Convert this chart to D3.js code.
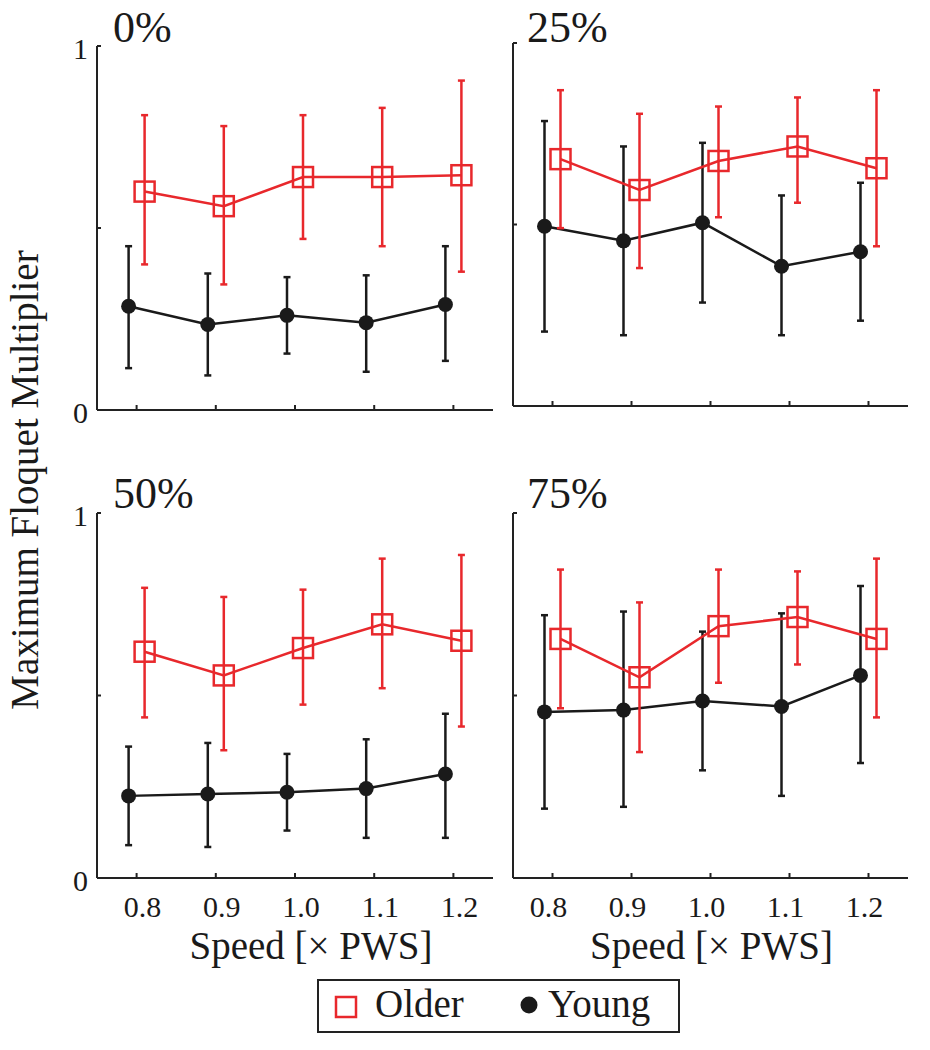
<!DOCTYPE html>
<html><head><meta charset="utf-8">
<script src="https://cdn.jsdelivr.net/npm/d3@7"></script>
<style>
html,body{margin:0;padding:0;background:#fff;}
svg text{font-family:"Liberation Serif","Times New Roman",serif;fill:#1a1a1a;}
</style></head>
<body>
<svg id="chart" width="930" height="1050" font-family="Liberation Serif, Times New Roman, serif"></svg>
<script>
const speeds = [0.8, 0.9, 1.0, 1.1, 1.2];
const panelTitles = ["0%", "25%", "50%", "75%"];
const yTicks = [0, 0.5, 1];
const yTickLabels = ["0", "", "1"];

const olderMean  = [[0.60,0.56,0.64,0.64,0.645],[0.68,0.595,0.675,0.715,0.655],[0.62,0.555,0.63,0.695,0.65],[0.655,0.55,0.69,0.715,0.655]];
const olderUpper = [[0.81,0.78,0.81,0.83,0.905],[0.87,0.805,0.825,0.85,0.87],[0.795,0.77,0.79,0.875,0.885],[0.845,0.755,0.845,0.84,0.875]];
const olderLower = [[0.40,0.345,0.47,0.45,0.38],[0.49,0.38,0.52,0.56,0.44],[0.44,0.35,0.475,0.52,0.415],[0.465,0.345,0.535,0.585,0.44]];
const youngMean  = [[0.285,0.235,0.26,0.24,0.29],[0.495,0.455,0.505,0.385,0.425],[0.225,0.23,0.235,0.245,0.285],[0.455,0.46,0.485,0.47,0.555]];
const youngUpper = [[0.45,0.375,0.365,0.37,0.45],[0.785,0.715,0.725,0.58,0.615],[0.36,0.37,0.34,0.38,0.45],[0.72,0.73,0.675,0.725,0.80]];
const youngLower = [[0.115,0.095,0.155,0.105,0.135],[0.205,0.195,0.285,0.195,0.235],[0.09,0.085,0.13,0.11,0.11],[0.19,0.195,0.295,0.225,0.315]];

const RED = "#e8282c", BLK = "#1a1a1a", AX = "#222";
const FONT = "'Liberation Serif', 'Times New Roman', serif";
const svg = d3.select("#chart");

const frames = [
  {l:97, r:493, t:46, b:410, showY:true, showX:false, dx:6},
  {l:513, r:908, t:43, b:406, showY:false, showX:false, dx:-4},
  {l:97, r:493, t:513, b:878, showY:true, showX:true, dx:6},
  {l:513, r:908, t:513, b:878, showY:false, showX:true, dx:-4}
];

frames.forEach((f, i) => {
  const g = svg.append("g");
  const x = d3.scaleLinear().domain([0.75, 1.25]).range([f.l, f.r]);
  const y = d3.scaleLinear().domain([0, 1]).range([f.b, f.t]);
  const off = 8;

  g.append("line").attr("x1", f.l).attr("x2", f.l).attr("y1", f.t).attr("y2", f.b)
    .attr("stroke", AX).attr("stroke-width", 2);
  g.append("line").attr("x1", f.l).attr("x2", f.r).attr("y1", f.b).attr("y2", f.b)
    .attr("stroke", AX).attr("stroke-width", 2);
  g.selectAll(".yt").data(yTicks).enter().append("line")
    .attr("x1", f.l).attr("x2", f.l + 4)
    .attr("y1", d => y(d)).attr("y2", d => y(d))
    .attr("stroke", AX).attr("stroke-width", 2);
  g.selectAll(".xt").data(speeds).enter().append("line")
    .attr("x1", d => x(d)).attr("x2", d => x(d))
    .attr("y1", f.b).attr("y2", f.b - 5)
    .attr("stroke", AX).attr("stroke-width", 2);

  if (f.showY) {
    g.selectAll(".yl").data(yTicks).enter().append("text")
      .attr("x", f.l - 9).attr("y", d => y(d) + 13)
      .attr("text-anchor", "end").attr("font-size", 30).attr("font-family", FONT)
      .text((d, k) => yTickLabels[k]);
  }
  if (f.showX) {
    g.selectAll(".xl").data(speeds).enter().append("text")
      .attr("x", d => x(d) + f.dx).attr("y", f.b + 39)
      .attr("text-anchor", "middle").attr("font-size", 30).attr("font-family", FONT)
      .text(d => d.toFixed(1));
    g.append("text").attr("x", (f.l + f.r) / 2 + (i === 2 ? 16 : 1)).attr("y", f.b + 81)
      .attr("text-anchor", "middle").attr("font-size", 39).attr("font-family", FONT)
      .text("Speed [× PWS]");
  }
  g.append("text").attr("x", f.l + 16 - (i % 2 === 1 ? 2 : 0)).attr("y", (i < 2 ? 42 : 508))
    .attr("font-size", 44).attr("font-family", FONT).text(panelTitles[i]);

  const cap = 3.5;
  const line = d3.line().x(d => d.px).y(d => y(d.m));

  const yd = speeds.map((s, k) => ({s, m: youngMean[i][k], u: youngUpper[i][k], lo: youngLower[i][k]}));
  yd.forEach(d => d.px = x(d.s) - off);
  const gy = g.append("g");
  yd.forEach(d => {
    gy.append("line").attr("x1", d.px).attr("x2", d.px).attr("y1", y(d.u)).attr("y2", y(d.lo))
      .attr("stroke", BLK).attr("stroke-width", 2.5);
    [d.u, d.lo].forEach(v => gy.append("line").attr("x1", d.px - cap).attr("x2", d.px + cap)
      .attr("y1", y(v)).attr("y2", y(v)).attr("stroke", BLK).attr("stroke-width", 2.5));
  });
  gy.append("path").datum(yd).attr("d", line).attr("fill", "none")
    .attr("stroke", BLK).attr("stroke-width", 2.5);
  gy.selectAll("circle").data(yd).enter().append("circle")
    .attr("cx", d => d.px).attr("cy", d => y(d.m)).attr("r", 7.5).attr("fill", BLK);

  const od = speeds.map((s, k) => ({s, m: olderMean[i][k], u: olderUpper[i][k], lo: olderLower[i][k]}));
  od.forEach(d => d.px = x(d.s) + off);
  const go = g.append("g");
  od.forEach(d => {
    go.append("line").attr("x1", d.px).attr("x2", d.px).attr("y1", y(d.u)).attr("y2", y(d.lo))
      .attr("stroke", RED).attr("stroke-width", 2.5);
    [d.u, d.lo].forEach(v => go.append("line").attr("x1", d.px - cap).attr("x2", d.px + cap)
      .attr("y1", y(v)).attr("y2", y(v)).attr("stroke", RED).attr("stroke-width", 2.5));
  });
  go.append("path").datum(od).attr("d", line).attr("fill", "none")
    .attr("stroke", RED).attr("stroke-width", 2.5);
  go.selectAll("rect").data(od).enter().append("rect")
    .attr("x", d => d.px - 10).attr("y", d => y(d.m) - 10)
    .attr("width", 20).attr("height", 20)
    .attr("fill", "none").attr("stroke", RED).attr("stroke-width", 2.5);
});

svg.append("text").attr("transform", "translate(38,480) rotate(-90)")
  .attr("text-anchor", "middle").attr("font-size", 39).attr("font-family", FONT)
  .text("Maximum Floquet Multiplier");

const lg = svg.append("g");
lg.append("rect").attr("x", 318).attr("y", 980).attr("width", 361).attr("height", 52)
  .attr("fill", "#fff").attr("stroke", AX).attr("stroke-width", 2);
lg.append("rect").attr("x", 336).attr("y", 997).attr("width", 20).attr("height", 20)
  .attr("fill", "none").attr("stroke", RED).attr("stroke-width", 2.5);
lg.append("text").attr("x", 375).attr("y", 1017).attr("font-size", 39).attr("font-family", FONT).text("Older");
lg.append("circle").attr("cx", 529).attr("cy", 1005).attr("r", 8.5).attr("fill", BLK);
lg.append("text").attr("x", 548).attr("y", 1017).attr("font-size", 39).attr("font-family", FONT).text("Young");
</script>
</body></html>
